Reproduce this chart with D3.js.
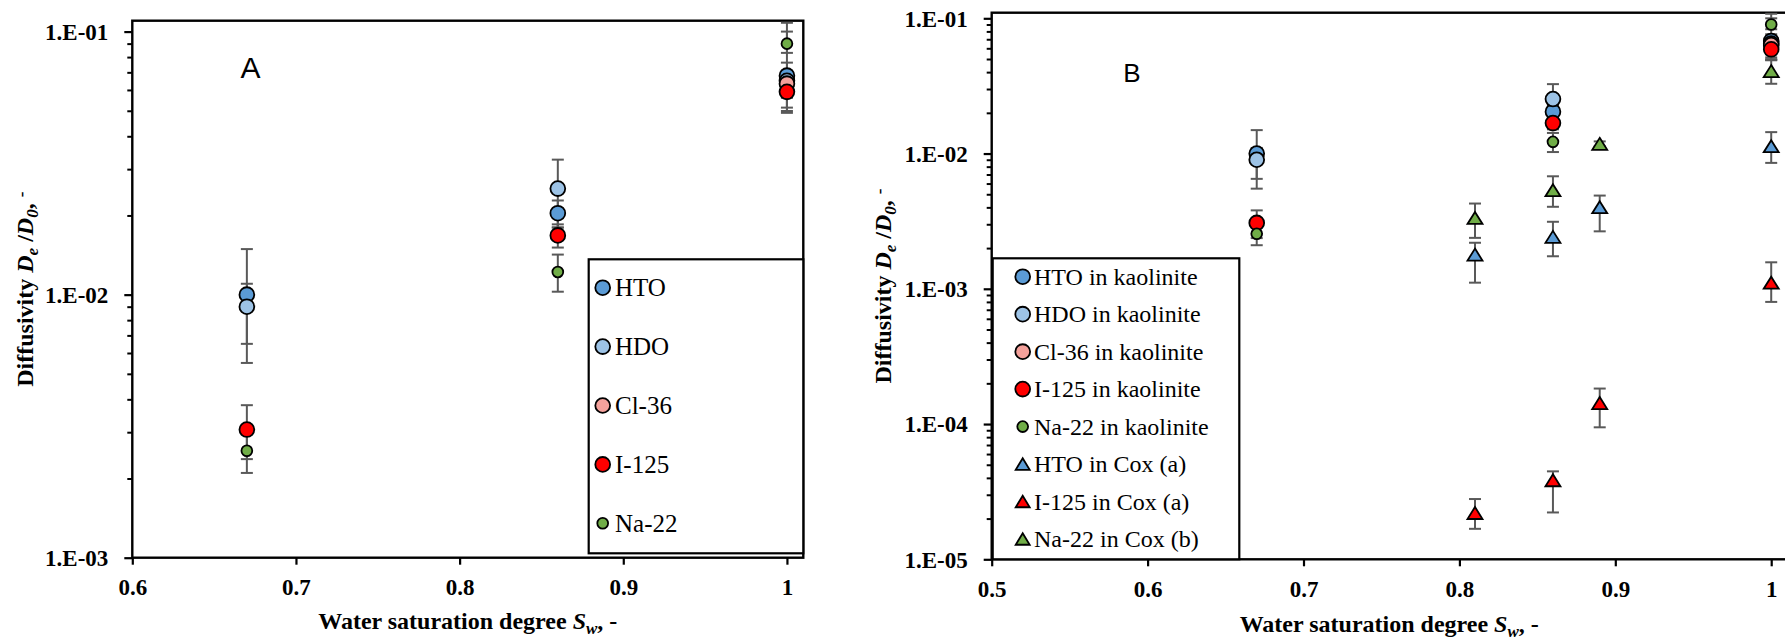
<!DOCTYPE html>
<html><head><meta charset="utf-8">
<script src="https://cdn.jsdelivr.net/npm/d3@7"></script>
<style>body{margin:0;background:#fff} svg{display:block}</style>
</head><body>
<svg id="chart" width="1785" height="643"></svg>
<script>
// ---------------- data ----------------
const kaolSw = [0.67, 0.86, 1.0];
const htoKaol   = [0.0100, 0.0204, 0.068];
const htoKaolLo = [0.0055, 0.0180, 0.0514];
const htoKaolHi = [0.0149, 0.0228, 0.0762];
const hdoKaol   = [0.0090, 0.0253, 0.065];
const hdoKaolLo = [0.0065, 0.0180, 0.0499];
const hdoKaolHi = [0.0110, 0.0326, 0.108];
const clSw = [1.0];
const clKaol   = [0.0634];
const clKaolLo = [0.0560];
const clKaolHi = [0.0710];
const iKaol   = [0.00307, 0.0168, 0.059];
const iKaolLo = [0.00237, 0.0151, 0.0491];
const iKaolHi = [0.0038, 0.0185, 0.069];
const naKaol   = [0.00255, 0.0122, 0.090];
const naKaolLo = [0.0021, 0.01026, 0.083];
const naKaolHi = [0.0030, 0.0142, 0.100];

const coxSw = [0.81, 0.86, 0.89, 1.0];
const htoCox   = [0.00179, 0.00242, 0.00401, 0.01133];
const htoCoxLo = [0.00111, 0.00174, 0.00266, 0.00853];
const htoCoxHi = [0.00219, 0.00313, 0.00489, 0.0144];
const iCox   = [2.2e-5, 3.84e-5, 1.43e-4, 0.00111];
const iCoxLo = [1.68e-5, 2.22e-5, 9.46e-5, 0.0008];
const iCoxHi = [2.79e-5, 4.47e-5, 1.83e-4, 0.00157];
const naCox   = [0.00334, 0.00536, 0.0118, 0.0407];
const naCoxLo = [0.00238, 0.00404, 0.0113, 0.0328];
const naCoxHi = [0.00427, 0.00679, 0.0123, 0.049];

const xTicksA = [0.6, 0.7, 0.8, 0.9, 1];
const xTickLabelsA = ["0.6", "0.7", "0.8", "0.9", "1"];
const yTicksA = [1e-3, 1e-2, 1e-1];
const yTickLabelsA = ["1.E-03", "1.E-02", "1.E-01"];
const xTicksB = [0.5, 0.6, 0.7, 0.8, 0.9, 1];
const xTickLabelsB = ["0.5", "0.6", "0.7", "0.8", "0.9", "1"];
const yTicksB = [1e-5, 1e-4, 1e-3, 1e-2, 1e-1];
const yTickLabelsB = ["1.E-05", "1.E-04", "1.E-03", "1.E-02", "1.E-01"];

const legendA = ["HTO", "HDO", "Cl-36", "I-125", "Na-22"];
const legendB = ["HTO in kaolinite", "HDO in kaolinite", "Cl-36 in kaolinite", "I-125 in kaolinite",
                 "Na-22 in kaolinite", "HTO in Cox (a)", "I-125 in Cox (a)", "Na-22 in Cox (b)"];

// ---------------- styles ----------------
const C = {hto: "#5B9BD5", hdo: "#9DC3E6", cl: "#F4A19B", i: "#FF0000", na: "#70AD47"};
const SERIF = "'Liberation Serif', 'Times New Roman', serif";
const SANS = "'Liberation Sans', Arial, sans-serif";
const ERR = "#595959";

function mk(name, xs, v, lo, hi, color, shape, size) {
  return {name, color, shape, size, pts: xs.map((x, k) => ({x, v: v[k], lo: lo[k], hi: hi[k]}))};
}
const kaolSeries = (suffix) => [
  mk("HTO" + suffix, kaolSw, htoKaol, htoKaolLo, htoKaolHi, C.hto, "circle", "big"),
  mk("HDO" + suffix, kaolSw, hdoKaol, hdoKaolLo, hdoKaolHi, C.hdo, "circle", "big"),
  mk("Cl-36" + suffix, clSw, clKaol, clKaolLo, clKaolHi, C.cl, "circle", "big"),
  mk("I-125" + suffix, kaolSw, iKaol, iKaolLo, iKaolHi, C.i, "circle", "big"),
  mk("Na-22" + suffix, kaolSw, naKaol, naKaolLo, naKaolHi, C.na, "circle", "small"),
];
const seriesA = kaolSeries("");
const seriesB = kaolSeries(" in kaolinite").concat([
  mk("HTO in Cox (a)", coxSw, htoCox, htoCoxLo, htoCoxHi, C.hto, "tri", "big"),
  mk("I-125 in Cox (a)", coxSw, iCox, iCoxLo, iCoxHi, C.i, "tri", "big"),
  mk("Na-22 in Cox (b)", coxSw, naCox, naCoxLo, naCoxHi, C.na, "tri", "big"),
]);
seriesA.forEach((s, k) => s.label = legendA[k]);
seriesB.forEach((s, k) => s.label = legendB[k]);

const svg = d3.select("#chart");

function triPath(w, h) { return `M0,${-h / 2}L${w / 2},${h / 2}L${-w / 2},${h / 2}Z`; }

function drawMarker(g, s, legend) {
  if (s.shape === "circle") {
    const r = s.size === "big" ? 7.4 : 5.4;
    return g.append("circle").attr("r", r).attr("fill", s.color)
      .attr("stroke", "#000").attr("stroke-width", 1.8);
  } else {
    const w = legend ? 14 : 15, h = legend ? 11.5 : 12;
    return g.append("path").attr("d", triPath(w, h)).attr("fill", s.color)
      .attr("stroke", "#000").attr("stroke-width", 1.8).attr("stroke-linejoin", "miter");
  }
}

function serif(sel, size, bold) {
  return sel.style("font-family", SERIF).style("font-size", size + "px")
    .style("font-weight", bold ? "bold" : "normal").attr("fill", "#000");
}

function panel(cfg) {
  const x = d3.scaleLinear().domain(cfg.xDomain).range([cfg.left, cfg.right]);
  const y = d3.scaleLog().domain(cfg.yDomain).range([cfg.bottom, cfg.top]);
  const g = svg.append("g");

  // minor y ticks
  const minor = y.ticks().filter(d => Math.abs(Math.log10(d) - Math.round(Math.log10(d))) > 1e-6);
  g.append("g").attr("transform", `translate(${cfg.left},0)`)
    .call(d3.axisLeft(y).tickValues(minor).tickSize(5).tickFormat(""))
    .call(a => a.select(".domain").remove())
    .call(a => a.selectAll("line").attr("stroke", "#000").attr("stroke-width", 2));

  // major y ticks
  const ya = g.append("g").attr("transform", `translate(${cfg.left},0)`)
    .call(d3.axisLeft(y).tickValues(cfg.yTicks).tickSize(8).tickPadding(16)
      .tickFormat((d, k) => cfg.yTickLabels[k]));
  ya.select(".domain").remove();
  ya.selectAll("line").attr("stroke", "#000").attr("stroke-width", 2.2);
  serif(ya.selectAll("text"), 23, true).attr("dy", "0.34em");

  // x axis ticks
  const xa = g.append("g").attr("transform", `translate(0,${cfg.bottom})`)
    .call(d3.axisBottom(x).tickValues(cfg.xTicks).tickSize(7)
      .tickFormat((d, k) => cfg.xTickLabels[k]));
  xa.select(".domain").remove();
  xa.selectAll("line").attr("stroke", "#000").attr("stroke-width", 2.2);
  serif(xa.selectAll("text"), 23, true).attr("y", 37.5).attr("dy", 0);

  // frame
  g.append("rect").attr("x", cfg.left).attr("y", cfg.top)
    .attr("width", cfg.right - cfg.left).attr("height", cfg.bottom - cfg.top)
    .attr("fill", "none").attr("stroke", "#000").attr("stroke-width", 2.4);

  // panel letter
  g.append("text").attr("x", cfg.letterX).attr("y", cfg.letterY)
    .style("font-family", SANS).style("font-size", cfg.letterSize + "px").attr("fill", "#000")
    .text(cfg.letter);

  // error bars
  const eb = g.append("g");
  cfg.series.forEach(s => {
    s.pts.forEach(p => {
      const cx = x(p.x), y1 = y(p.hi), y2 = y(p.lo);
      eb.append("line").attr("x1", cx).attr("x2", cx).attr("y1", y1).attr("y2", y2)
        .attr("stroke", ERR).attr("stroke-width", 2);
      [y1, y2].forEach(yy => eb.append("line").attr("x1", cx - 6).attr("x2", cx + 6)
        .attr("y1", yy).attr("y2", yy).attr("stroke", ERR).attr("stroke-width", 2));
    });
  });

  // markers
  cfg.series.forEach(s => {
    s.pts.forEach(p => {
      const mg = g.append("g").attr("transform", `translate(${x(p.x)},${y(p.v)})`);
      drawMarker(mg, s, false);
    });
  });

  // legend
  const L = cfg.legend;
  const lg = g.append("g");
  lg.append("rect").attr("x", L.x0).attr("y", L.y0).attr("width", L.x1 - L.x0).attr("height", L.y1 - L.y0)
    .attr("fill", "#fff").attr("stroke", "#000").attr("stroke-width", 2.2);
  cfg.series.forEach((s, k) => {
    const cy = L.first + L.step * k;
    const mg = lg.append("g").attr("transform", `translate(${L.mx},${cy})`);
    drawMarker(mg, s, true);
    serif(lg.append("text").attr("x", L.tx).attr("y", cy + L.base), L.fs, false).text(s.label);
  });

  // y title
  const yt = serif(g.append("text")
    .attr("transform", `translate(${cfg.yTitleX},${(cfg.top + cfg.bottom) / 2}) rotate(-90)`)
    .attr("text-anchor", "middle"), 24, true);
  yt.append("tspan").text("Diffusivity ");
  yt.append("tspan").style("font-style", "italic").text("D");
  yt.append("tspan").style("font-style", "italic").style("font-size", "17px").attr("dy", 5).text("e");
  yt.append("tspan").attr("dy", -5).text(" /");
  yt.append("tspan").style("font-style", "italic").text("D");
  yt.append("tspan").style("font-style", "italic").style("font-size", "17px").attr("dy", 5).text("0");
  yt.append("tspan").attr("dy", -5).text(", ");
  yt.append("tspan").style("font-size", "17px").attr("dy", -6).text("-");

  // x title
  const xt = serif(g.append("text")
    .attr("x", (cfg.left + cfg.right) / 2).attr("y", cfg.bottom + cfg.xTitleDy)
    .attr("text-anchor", "middle"), 24, true);
  xt.append("tspan").text("Water saturation degree ");
  xt.append("tspan").style("font-style", "italic").text("S");
  xt.append("tspan").style("font-style", "italic").style("font-size", "17px").attr("dy", 5).text("w");
  xt.append("tspan").attr("dy", -5).text(", -");
}

panel({
  xDomain: [0.6, 1.01], yDomain: [1e-3, 0.11],
  left: 132.3, right: 803.3, top: 20.7, bottom: 557.7,
  xTicks: xTicksA, xTickLabels: xTickLabelsA, yTicks: yTicksA, yTickLabels: yTickLabelsA,
  series: seriesA,
  letter: "A", letterX: 240.5, letterY: 78.3, letterSize: 30,
  yTitleX: 33, xTitleDy: 71.5,
  legend: {x0: 588.7, y0: 259.3, x1: 803.3, y1: 553.3, first: 287.7, step: 58.9,
           mx: 602.7, tx: 615, base: 8.5, fs: 25}
});

panel({
  xDomain: [0.5, 1.01], yDomain: [1e-5, 0.11],
  left: 991.7, right: 1786.8, top: 12.7, bottom: 559.3,
  xTicks: xTicksB, xTickLabels: xTickLabelsB, yTicks: yTicksB, yTickLabels: yTickLabelsB,
  series: seriesB,
  letter: "B", letterX: 1123.3, letterY: 81.7, letterSize: 26,
  yTitleX: 891, xTitleDy: 73,
  legend: {x0: 992.7, y0: 258.3, x1: 1239.3, y1: 559.3, first: 276.7, step: 37.47,
           mx: 1022.7, tx: 1034, base: 8, fs: 24}
});
</script>
</body></html>
